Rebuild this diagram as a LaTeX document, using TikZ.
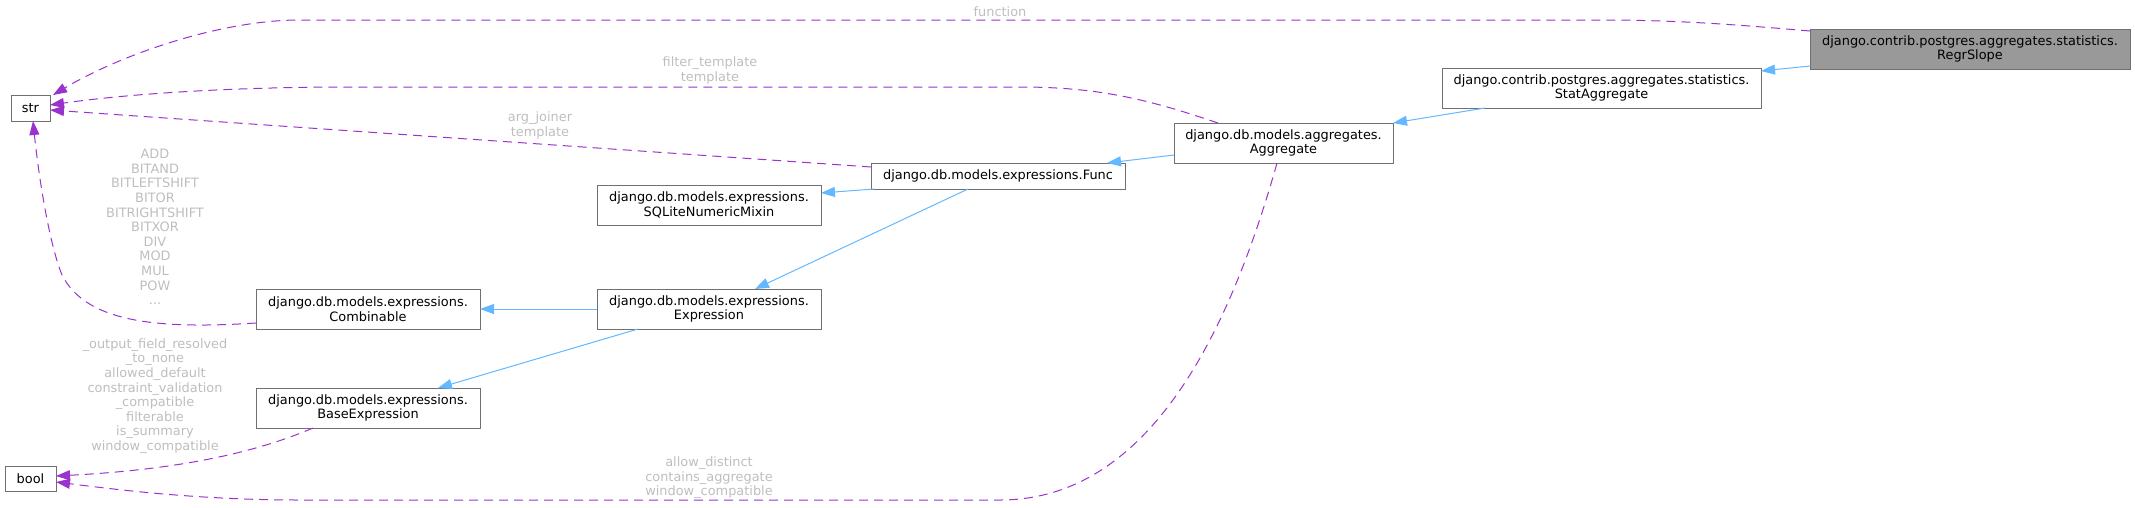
\documentclass[tikz,border=0pt]{standalone}
\usepackage{fontspec}
\setmainfont{DejaVu Sans}
\usetikzlibrary{arrows.meta}
\definecolor{edgeP}{HTML}{9A32CD}
\definecolor{edgeB}{HTML}{63B8FF}
\definecolor{boxB}{HTML}{707070}
\definecolor{lblc}{HTML}{BEBEBE}
\definecolor{hlfill}{HTML}{999999}
\newcommand\dxfont{\fontsize{12.9}{14.6}\selectfont}
\begin{document}
\begin{tikzpicture}[x=1pt,y=-1pt,
  cls/.style={draw=boxB, line width=1pt, fill=white, minimum height=40pt, inner sep=0pt, outer sep=0pt, align=center, font=\dxfont},
  inh/.style={draw=edgeB, line width=1pt, -{Triangle[length=14pt,width=10pt]}},
  usage/.style={draw=edgeP, line width=1pt, dash pattern=on 9pt off 6pt, -{Triangle[length=14pt,width=10pt]}},
  lblt/.style={text=lblc, align=center, font=\dxfont, inner sep=0pt}]
\useasboundingbox (0,0) rectangle (2135,507);
% nodes
\node[cls, minimum width=39pt, minimum height=26pt] (str) at (30.5,108) {str};
\node[cls, minimum width=51pt, minimum height=25pt] (bool) at (30.5,478.5) {bool};
\node[cls, minimum width=224pt] (comb) at (368,309) {django.db.models.expressions.\\Combinable};
\node[cls, minimum width=224pt] (base) at (368,408) {django.db.models.expressions.\\BaseExpression};
\node[cls, minimum width=224pt] (sqlite) at (709,205) {django.db.models.expressions.\\SQLiteNumericMixin};
\node[cls, minimum width=224pt] (expr) at (709,309) {django.db.models.expressions.\\Expression};
\node[cls, minimum width=254pt, minimum height=26pt] (func) at (998,176) {django.db.models.expressions.Func};
\node[cls, minimum width=219pt] (agg) at (1283.5,143) {django.db.models.aggregates.\\Aggregate};
\node[cls, minimum width=319pt] (stat) at (1601.5,88) {django.contrib.postgres.aggregates.statistics.\\StatAggregate};
\node[cls, fill=hlfill, minimum width=320pt] (regr) at (1970,49) {django.contrib.postgres.aggregates.statistics.\\RegrSlope};
% inheritance edges
\draw[inh] ([shift={(0,17)}]regr.west) -- ([shift={(0,3)}]stat.north east);
\draw[inh] ([shift={(43,0)}]stat.south west) -- (agg.north east);
\draw[inh] ([shift={(0,-8)}]agg.south west) -- ([shift={(-18,0)}]func.north east);
\draw[inh] ([shift={(3,0)}]func.south west) -- ([shift={(0,8)}]sqlite.north east);
\draw[inh] ([shift={(-30,0)}]func.south) -- ([shift={(46,0)}]expr.north);
\draw[inh] (expr.west) -- (comb.east);
\draw[inh] ([shift={(41,0)}]expr.south west) -- ([shift={(-42,0)}]base.north east);
% usage edges
\draw[usage] ([shift={(0,2)}]regr.north west) .. controls (1740,25) and (1680,20) .. (1600,20) -- (300,20) .. controls (220,20) and (120,55) .. ([shift={(3,0)}]str.north east);
\draw[usage] ([shift={(44,0)}]agg.north west) .. controls (1150,100) and (1100,87) .. (1020,87) -- (350,87) .. controls (220,87) and (120,95) .. ([shift={(0,-3)}]str.east);
\draw[usage] ([shift={(0,-9)}]func.west) -- ([shift={(0,2)}]str.east);
\draw[usage] ([shift={(0,14)}]comb.west) .. controls (150,330) and (85,320) .. (62,275) .. controls (48,240) and (38,170) .. ([shift={(2.5,0)}]str.south);
\draw[usage] ([shift={(57,0)}]base.south west) .. controls (250,455) and (170,470) .. ([shift={(0,-2.5)}]bool.east);
\draw[usage] ([shift={(-6.5,0)}]agg.south) .. controls (1230,330) and (1150,500) .. (1000,500) -- (300,500) .. controls (200,500) and (120,490) .. ([shift={(0,3.5)}]bool.east);
% labels
\node[lblt] (l1) at (1000,12) {function};
\node[lblt] (l2) at (710,70.5) {filter\_template\\template};
\node[lblt] (l3) at (540,125.5) {arg\_joiner\\template};
\node[lblt] (l4) at (155,227) {ADD\\BITAND\\BITLEFTSHIFT\\BITOR\\BITRIGHTSHIFT\\BITXOR\\DIV\\MOD\\MUL\\POW\\...};
\node[lblt] (l5) at (155,396) {\_output\_field\_resolved\\\_to\_none\\allowed\_default\\constraint\_validation\\\_compatible\\filterable\\is\_summary\\window\_compatible};
\node[lblt] (l6) at (709,478) {allow\_distinct\\contains\_aggregate\\window\_compatible};
\end{tikzpicture}
\end{document}
